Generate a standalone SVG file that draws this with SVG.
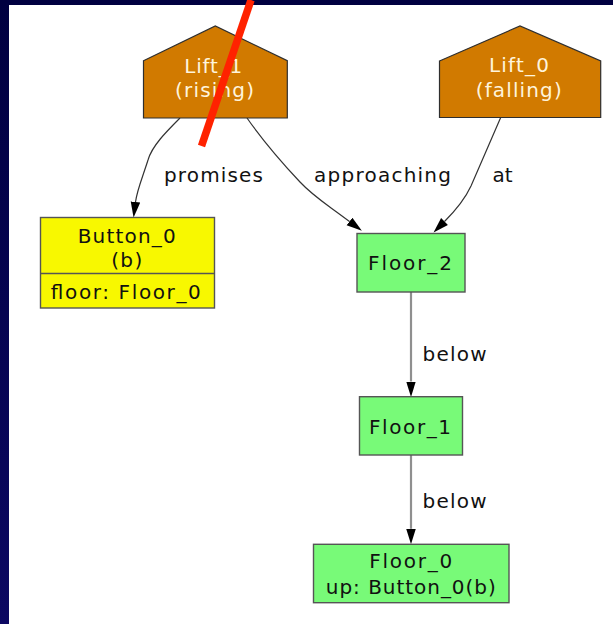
<svg xmlns="http://www.w3.org/2000/svg" width="613" height="624" viewBox="0 0 613 624">
  <defs>
    <linearGradient id="frameGrad" x1="0" y1="0" x2="0" y2="1">
      <stop offset="0" stop-color="#000040"/>
      <stop offset="1" stop-color="#0c0862"/>
    </linearGradient>
    <marker id="arrow" markerUnits="userSpaceOnUse" markerWidth="16" markerHeight="12" viewBox="0 -6 16 12" refX="0" refY="0" orient="auto">
      <path d="M0,-4.8 L15.5,0 L0,4.8 Z" fill="#000"/>
    </marker>
    <style>
      text { font-family: "DejaVu Sans", "Liberation Sans", sans-serif; font-size: 20px; }
      .mid { text-anchor: middle; }
      .dark { fill: #111; }
      .light { fill: #fff4dc; }
      .lift { fill: #d17a00; stroke: #2e2e2e; stroke-width: 1.2; }
      .floor { fill: #78fa78; stroke: #555; stroke-width: 1.4; }
      .button { fill: #f8f800; stroke: #555; stroke-width: 1.4; }
      .curve { fill: none; stroke: #333; stroke-width: 1.2; marker-end: url(#arrow); }
      .straight { fill: none; stroke: #8f8f8f; stroke-width: 2.2; marker-end: url(#arrow); }
    </style>
  </defs>

  <!-- frame and canvas -->
  <rect x="0" y="0" width="613" height="624" fill="url(#frameGrad)"/>
  <rect x="9" y="5" width="604" height="619" fill="#fff"/>

  <!-- connectors -->
  <g id="edges">
    <path class="curve" d="M180,118 C166,132 152,146 148,160 C143,176 137,190 135.5,202"/>
    <path class="curve" d="M247,118 C266,145 285,166 300,182 C314,197 325,203 349.5,221.5"/>
    <path class="curve" d="M500.7,117.5 C492,138 480,165 471,186 C465,199 455,211 444.5,221.5"/>
    <path class="straight" d="M411,292 L411,381.5"/>
    <path class="straight" d="M411,455 L411,528.8"/>
    <text class="dark" x="164" y="182" textLength="99">promises</text>
    <text class="dark" x="314" y="182" textLength="137">approaching</text>
    <text class="dark" x="492.5" y="182" textLength="20">at</text>
    <text class="dark" x="422.5" y="360.5" textLength="64">below</text>
    <text class="dark" x="422.5" y="508.3" textLength="64">below</text>
  </g>

  <!-- nodes -->
  <g id="Lift_1">
    <polygon class="lift" points="143.5,60.7 215.3,26 287.3,60.7 287.3,118 143.5,118"/>
    <text class="light mid" x="213.3" y="72.5" textLength="58">Lift_1</text>
    <text class="light mid" x="214.5" y="97" textLength="79">(rising)</text>
  </g>

  <g id="Lift_0">
    <polygon class="lift" points="439.5,61 520,26 600.7,61 600.7,117.5 439.5,117.5"/>
    <text class="light mid" x="519" y="72" textLength="60">Lift_0</text>
    <text class="light mid" x="518.7" y="97" textLength="86">(falling)</text>
  </g>

  <g id="Button_0">
    <rect class="button" x="40.5" y="217.5" width="174" height="90.5"/>
    <line x1="40.5" y1="273.5" x2="214.5" y2="273.5" stroke="#555" stroke-width="1.6"/>
    <text class="dark mid" x="126.7" y="242.5" textLength="98">Button_0</text>
    <text class="dark mid" x="126.7" y="267" textLength="31">(b)</text>
    <text class="dark mid" x="125.8" y="299" textLength="150">floor: Floor_0</text>
  </g>

  <g id="Floor_2">
    <rect class="floor" x="357" y="233.5" width="108" height="58.5"/>
    <text class="dark mid" x="410" y="269.5" textLength="84">Floor_2</text>
  </g>

  <g id="Floor_1">
    <rect class="floor" x="359.5" y="396.7" width="103" height="58.3"/>
    <text class="dark mid" x="410" y="434" textLength="82">Floor_1</text>
  </g>

  <g id="Floor_0">
    <rect class="floor" x="313.5" y="544.3" width="195.5" height="58.4"/>
    <text class="dark mid" x="410.8" y="568.3" textLength="83">Floor_0</text>
    <text class="dark mid" x="410.8" y="594" textLength="170">up: Button_0(b)</text>
  </g>

  <!-- red strike line -->
  <line x1="251" y1="0" x2="201.5" y2="146" stroke="#ff2200" stroke-width="7.5"/>
</svg>
